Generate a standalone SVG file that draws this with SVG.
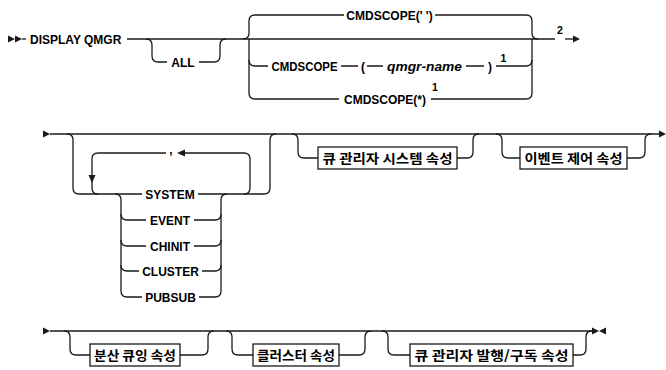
<svg xmlns="http://www.w3.org/2000/svg" width="666" height="370" viewBox="0 0 666 370">
<style>
.ln{fill:none;stroke:#1a1a1a;stroke-width:1.3}
.ah{fill:#1a1a1a;stroke:none}
.t{font-family:"Liberation Sans",Arial,sans-serif;font-weight:bold;font-size:12px;fill:#000}
.c{text-anchor:middle}
.i{font-style:italic}
.sup{font-family:"Liberation Sans",Arial,sans-serif;font-weight:bold;font-size:10.5px;fill:#000;text-anchor:middle}
.box{fill:#fff;stroke:#1a1a1a;stroke-width:1.3}
.k{font-family:"Noto Sans CJK KR","Noto Sans",sans-serif;font-weight:bold;font-size:13px;fill:#000;text-anchor:middle}
</style>
<rect width="666" height="370" fill="#fff"/>
<g id="connectors">
  <!-- row 1 -->
  <polygon class="ah" points="8,35.5 15,39 8,42.5"/>
  <polygon class="ah" points="15,35.5 22,39 15,42.5"/>
  <path class="ln" d="M22 39 H26"/>
  <path class="ln" d="M127 39 H555"/>
  <path class="ln" d="M146 39 Q152 39 152 45 V56 Q152 62 158 62 H167 M199 62 H214 Q220 62 220 56 V45 Q220 39 226 39"/>
  <path class="ln" d="M243 39 Q249 39 249 33 V21 Q249 15 255 15 H344 M435 15 H526 Q532 15 532 21 V33 Q532 39 538 39"/>
  <path class="ln" d="M249 39 V93 Q249 99 255 99 H339 M431 99 H526 Q532 99 532 93 V39"/>
  <path class="ln" d="M249 60 Q249 66 255 66 H268 M341 66 H358 M367 66 H383 M466 66 H484 M496 66 H526 Q532 66 532 60"/>
  <path class="ln" d="M565 39 H574"/>
  <polygon class="ah" points="573,35.5 580,39 573,42.5"/>
  <!-- row 2 -->
  <polygon class="ah" points="43,130.5 50,134 43,137.5"/>
  <path class="ln" d="M50 134 H660"/>
  <polygon class="ah" points="659,130.5 666,134 659,137.5"/>
  <path class="ln" d="M67 134 Q73 134 73 140 V188 Q73 194 79 194 H142 M198 194 H264 Q270 194 270 188 V140 Q270 134 276 134"/>
  <path class="ln" d="M98 194 Q92 194 92 188 V159 Q92 153 98 153 H166 M185 153 H244 Q250 153 250 159 V188 Q250 194 244 194"/>
  <polygon class="ah" points="177,153 185,149.5 185,156.5"/>
  <polygon class="ah" points="88.5,175 95.5,175 92,183"/>
  <path class="ln" d="M115 194 Q121 194 121 200 V291 Q121 297 127 297 H142 M199 297 H215 Q221 297 221 291 V200 Q221 194 227 194"/>
  <path class="ln" d="M121 214 Q121 220 127 220 H146 M194 220 H215 Q221 220 221 214"/>
  <path class="ln" d="M121 240 Q121 246 127 246 H146 M194 246 H215 Q221 246 221 240"/>
  <path class="ln" d="M121 265 Q121 271 127 271 H139 M202 271 H215 Q221 271 221 265"/>
  <path class="ln" d="M292 134 Q298 134 298 140 V152 Q298 158 304 158 H318 M457 158 H467 Q473 158 473 152 V140 Q473 134 479 134"/>
  <path class="ln" d="M496 134 Q502 134 502 140 V152 Q502 158 508 158 H520 M627 158 H639 Q645 158 645 152 V140 Q645 134 651 134"/>
  <!-- row 3 -->
  <polygon class="ah" points="43,327.5 50,331 43,334.5"/>
  <path class="ln" d="M50 331 H592"/>
  <path class="ln" d="M64 331 Q70 331 70 337 V349 Q70 355 76 355 H90 M180 355 H202 Q208 355 208 349 V337 Q208 331 214 331"/>
  <path class="ln" d="M226 331 Q232 331 232 337 V349 Q232 355 238 355 H253 M339 355 H359 Q365 355 365 349 V337 Q365 331 371 331"/>
  <path class="ln" d="M382 331 Q388 331 388 337 V349 Q388 355 394 355 H410 M573 355 H580 Q586 355 586 349 V337 Q586 331 592 331"/>
  <polygon class="ah" points="592,327.5 599,331 592,334.5"/>
  <polygon class="ah" points="606,327.5 599,331 606,334.5"/>
</g>
<g id="n-display"><text class="t" x="30" y="43.5">DISPLAY QMGR</text></g>
<g id="n-all"><text class="t c" x="183" y="66.5">ALL</text></g>
<g id="n-cmdscope-blank"><text class="t c" x="389.5" y="19.5">CMDSCOPE(' ')</text></g>
<g id="n-cmdscope-q">
  <text class="t" x="271.5" y="70.5" textLength="66" lengthAdjust="spacingAndGlyphs">CMDSCOPE</text>
  <text class="t" x="361" y="70.5">(</text>
  <text class="t i" x="387" y="70.5" textLength="75" lengthAdjust="spacingAndGlyphs">qmgr-name</text>
  <text class="t" x="488" y="70.5">)</text>
  <text class="sup" x="503.5" y="62">1</text>
</g>
<g id="n-cmdscope-star">
  <text class="t c" x="385" y="103.5">CMDSCOPE(*)</text>
  <text class="sup" x="435" y="91">1</text>
</g>
<g id="n-note2"><text class="sup" x="560" y="34">2</text></g>
<g id="n-comma"><text class="t c" x="171" y="154">,</text></g>
<g id="n-system"><text class="t c" x="170" y="198.5">SYSTEM</text></g>
<g id="n-event"><text class="t c" x="170" y="224.5">EVENT</text></g>
<g id="n-chinit"><text class="t c" x="170" y="250.5">CHINIT</text></g>
<g id="n-cluster"><text class="t c" x="170.5" y="275.5">CLUSTER</text></g>
<g id="n-pubsub"><text class="t c" x="170.5" y="301.5">PUBSUB</text></g>
<g id="n-qmsys"><rect class="box" x="318" y="147" width="139" height="22"/><text class="k" x="387.5" y="162.5" textLength="130" lengthAdjust="spacingAndGlyphs">큐 관리자 시스템 속성</text></g>
<g id="n-event-ctl"><rect class="box" x="520" y="147" width="107" height="22"/><text class="k" x="573.5" y="162.5" textLength="98" lengthAdjust="spacingAndGlyphs">이벤트 제어 속성</text></g>
<g id="n-dq"><rect class="box" x="90" y="344" width="90" height="22"/><text class="k" x="135" y="359.5" textLength="82" lengthAdjust="spacingAndGlyphs">분산 큐잉 속성</text></g>
<g id="n-cl"><rect class="box" x="253" y="344" width="86" height="22"/><text class="k" x="296" y="359.5" textLength="78" lengthAdjust="spacingAndGlyphs">클러스터 속성</text></g>
<g id="n-ps"><rect class="box" x="410" y="344" width="163" height="22"/><text class="k" x="491.5" y="359.5" textLength="154" lengthAdjust="spacingAndGlyphs">큐 관리자 발행/구독 속성</text></g>
</svg>
